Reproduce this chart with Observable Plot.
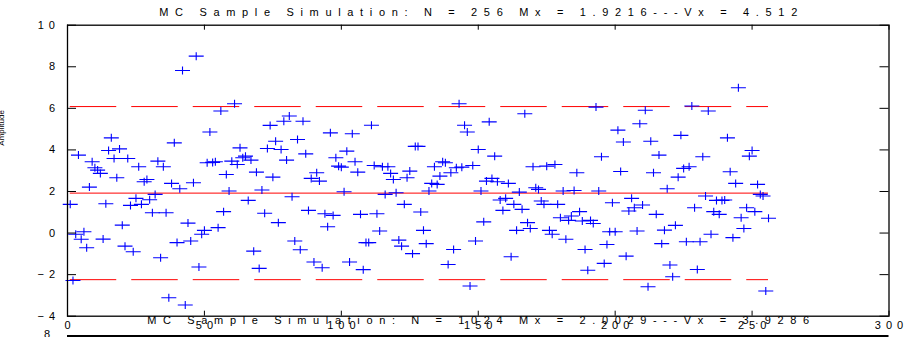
<!DOCTYPE html>
<html><head><meta charset="utf-8">
<script src="https://cdn.jsdelivr.net/npm/d3@7"></script>
<script src="https://cdn.jsdelivr.net/npm/@observablehq/plot@0.6"></script>
<style>
html,body{margin:0;padding:0;background:#fff;overflow:hidden}
#chart svg{display:block}
#chart g[aria-label$="tick label"] text{letter-spacing:5px}
</style></head><body><div id="chart"></div>
<script>
const values = [
 1.38,-2.28,-0.06,3.75,-0.30,0.06,-0.71,2.21,3.43,3.14,
 3.03,2.87,-0.29,1.41,3.97,4.58,3.59,2.66,4.05,0.38,
 -0.63,3.59,1.33,-0.90,1.67,3.19,1.38,2.47,2.58,1.60,
 0.98,1.86,3.46,-1.19,3.19,0.98,-3.11,2.39,4.34,-0.46,
 2.13,7.82,-3.46,0.48,-0.38,2.42,8.51,-1.63,-0.06,0.13,
 3.38,4.86,3.40,3.43,0.26,5.87,1.03,2.82,2.02,3.46,
 6.22,3.30,4.10,3.62,3.70,1.57,3.51,-0.87,2.93,-1.70,
 2.07,0.95,4.07,5.18,2.69,4.42,0.50,4.02,5.38,3.51,
 5.63,1.75,-0.38,4.50,-0.80,5.38,3.81,1.09,2.63,-1.39,
 2.90,2.50,-1.67,0.93,0.30,4.82,0.85,3.62,3.22,3.17,
 1.99,3.94,-1.39,4.78,3.43,2.93,0.90,-1.76,-0.46,-0.46,
 5.19,3.25,0.93,0.10,3.19,1.86,3.19,2.87,2.58,1.94,
 -0.34,-0.63,1.38,2.66,2.98,-0.99,4.17,4.17,1.01,0.13,
 -0.51,2.02,2.39,3.19,2.34,2.74,3.43,3.38,-1.51,2.90,
 -0.79,3.14,6.22,3.17,5.19,4.86,-2.55,3.25,-0.38,4.02,
 2.02,0.54,2.50,5.35,2.63,3.70,2.47,1.59,1.09,1.67,
 2.39,-1.14,1.38,0.13,1.97,1.14,5.74,0.50,0.22,3.19,
 2.18,2.10,1.54,1.38,3.22,0.13,-0.06,3.30,1.38,0.74,
 2.02,-0.30,0.61,0.82,2.05,2.90,1.03,0.58,-0.79,-1.79,
 0.61,0.46,6.06,2.02,3.67,-1.46,-0.55,0.06,1.46,0.06,
 4.95,2.96,4.38,-1.11,1.06,1.67,1.22,0.10,5.26,1.35,
 5.91,-2.58,4.42,2.90,0.90,3.75,-0.51,0.14,2.13,-1.54,
 -2.10,0.37,2.69,4.70,3.11,-0.42,3.19,6.11,1.22,-1.75,
 -0.42,3.67,1.78,5.87,-0.06,1.03,1.57,0.90,1.57,1.59,
 4.58,2.95,-0.22,2.39,6.99,0.74,0.22,1.22,3.70,3.97,
 1.03,2.34,1.86,1.78,-2.79,0.71
];
const xTicks = [0, 50, 100, 150, 200, 250, 300];
const yTicks = [-4, -2, 0, 2, 4, 6, 8, 10];
const meanValue = 1.9216;
const bandValues = [6.085, -2.242];
const titleText = "MC Sample Simulation: N = 256 Mx = 1.9216---Vx = 4.512";
const nextTitleText = "MC Sample Simulation: N = 1024 Mx = 2.0029---Vx = 3.9286";
const nextTickLabels = ["8"];
const yLabel = "Amplitude";

const data = values.map((v, k) => ({i: k + 1, v}));
const n = values.length;

const W = 910, H = 337, mL = 67, mR = 21.5, mT = 24.7, mB = 21.3;
const fw = W - mL - mR, fh = H - mT - mB;
const font = "'Liberation Sans Narrow','Liberation Sans',Arial,sans-serif";

const plusSymbol = {
  draw(ctx) { ctx.moveTo(-7.5, 0); ctx.lineTo(7.5, 0); ctx.moveTo(0, -4); ctx.lineTo(0, 4); }
};

const chart = Plot.plot({
  width: W, height: H,
  marginLeft: mL, marginRight: mR, marginTop: mT, marginBottom: mB,
  style: {fontFamily: font, fontSize: "11px", color: "#000", background: "#fff", overflow: "visible"},
  x: {domain: [0, 300]},
  y: {domain: [-4, 10]},
  marks: [
    Plot.ruleY(bandValues, {x1: 1, x2: n, stroke: "#ff0000", strokeWidth: 1, strokeDasharray: "46.5,15"}),
    Plot.ruleY([meanValue], {x1: 1, x2: n, stroke: "#ff0000", strokeWidth: 1}),
    Plot.dot(data, {x: "i", y: "v", symbol: plusSymbol, stroke: "#0000ff", fill: "none", strokeWidth: 1.1}),
    Plot.tickX(xTicks, {x: d => d, insetTop: fh - 5, stroke: "#000"}),
    Plot.tickX(xTicks, {x: d => d, insetBottom: fh - 5, stroke: "#000"}),
    Plot.tickY(yTicks, {y: d => d, insetRight: fw - 9, stroke: "#000"}),
    Plot.tickY(yTicks, {y: d => d, insetLeft: fw - 9, stroke: "#000"}),
    Plot.frame({stroke: "#000", strokeWidth: 1.3}),
    Plot.axisX(xTicks, {tickSize: 0, tickPadding: 5, dx: 2.5, label: null, fontSize: 11}),
    Plot.axisY(yTicks, {tickSize: 0, tickPadding: 7.5, label: null, fontSize: 11}),
    Plot.text([titleText], {frameAnchor: "top", lineAnchor: "middle", dy: -13, fontSize: 11, fill: "#000"}),
    Plot.text([nextTitleText], {frameAnchor: "bottom", lineAnchor: "middle", dy: 4.5, fontSize: 11, fill: "#000"}),
    Plot.text(nextTickLabels, {frameAnchor: "bottom-left", lineAnchor: "middle", dx: -12.5, dy: 18.5, textAnchor: "end", fontSize: 11, fill: "#000"}),
    Plot.text([yLabel], {frameAnchor: "left", dx: -66, dy: -25, rotate: -90, fontSize: 8, fill: "#000"})
  ]
});
document.getElementById("chart").appendChild(chart);

const svg = d3.select(chart);
svg.selectAll("text").filter(function () { return this.textContent === titleText; })
  .attr("textLength", 638).attr("lengthAdjust", "spacing");
svg.selectAll("text").filter(function () { return this.textContent === nextTitleText; })
  .attr("textLength", 662).attr("lengthAdjust", "spacing");
svg.selectAll("text").filter(function () { return this.textContent === "8"; })
  .style("letter-spacing", "5px");
// top border of the next (cut-off) subplot
svg.append("line").attr("x1", mL).attr("x2", W - mR).attr("y1", 336).attr("y2", 336)
  .attr("stroke", "#000").attr("stroke-width", 2);
</script></body></html>
